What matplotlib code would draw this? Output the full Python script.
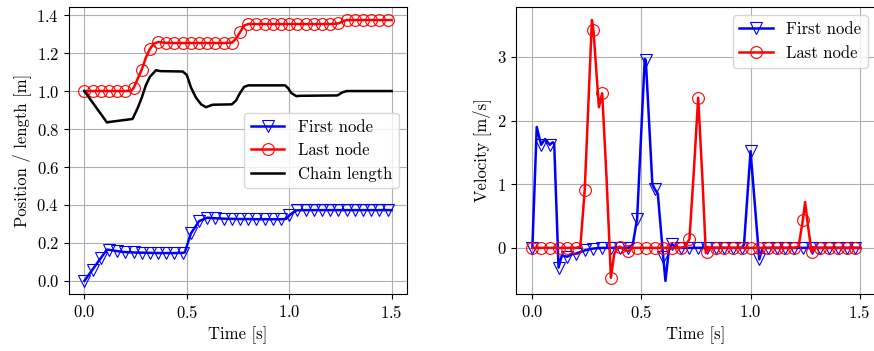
import numpy as np
import matplotlib
matplotlib.use('Agg')
import matplotlib.pyplot as plt

plt.rcParams['font.family'] = ['cmr10', 'DejaVu Serif']
plt.rcParams['mathtext.fontset'] = 'cm'
plt.rcParams['axes.formatter.use_mathtext'] = True
plt.rcParams['font.size'] = 12
plt.rcParams['axes.unicode_minus'] = False

# ---- positions (left panel) ----
t_first_pos = [0.0, 0.04, 0.08, 0.11, 0.12, 0.16, 0.20, 0.24, 0.28, 0.32, 0.36, 0.40, 0.44,
               0.48, 0.49, 0.52, 0.56, 0.60, 0.64, 0.68, 0.72, 0.76, 0.80, 0.84, 0.88,
               0.92, 0.96, 0.985, 1.00, 1.03, 1.04, 1.08, 1.12, 1.16, 1.20, 1.24, 1.28,
               1.32, 1.36, 1.40, 1.44, 1.48, 1.50]
first_pos = [0.0, 0.06, 0.12, 0.165, 0.164, 0.157, 0.152, 0.150, 0.149, 0.148, 0.147, 0.147, 0.147,
             0.148, 0.150, 0.25, 0.315, 0.333, 0.330, 0.328, 0.327, 0.326, 0.326, 0.325, 0.325,
             0.325, 0.325, 0.327, 0.345, 0.370, 0.372, 0.373, 0.373, 0.373, 0.373, 0.373, 0.373,
             0.373, 0.373, 0.373, 0.373, 0.373, 0.373]

t_last_pos = [0.0, 0.04, 0.08, 0.12, 0.16, 0.20, 0.23, 0.24, 0.28, 0.30, 0.32, 0.34, 0.36,
              0.40, 0.44, 0.48, 0.52, 0.56, 0.60, 0.64, 0.68, 0.72, 0.74, 0.76, 0.78, 0.80,
              0.84, 0.88, 0.92, 0.96, 1.00, 1.04, 1.08, 1.12, 1.16, 1.20, 1.24, 1.26, 1.28,
              1.32, 1.36, 1.40, 1.44, 1.48, 1.50]
last_pos = [1.0, 1.0, 1.0, 1.0, 1.0, 1.0, 1.003, 1.015, 1.113, 1.175, 1.222, 1.250, 1.258,
            1.254, 1.253, 1.253, 1.253, 1.253, 1.253, 1.253, 1.253, 1.255, 1.275, 1.31, 1.345, 1.353,
            1.353, 1.353, 1.353, 1.353, 1.353, 1.353, 1.353, 1.353, 1.353, 1.353, 1.356, 1.366, 1.374,
            1.374, 1.374, 1.374, 1.374, 1.374, 1.374]

t_chain = [0.0, 0.11, 0.12, 0.235, 0.26, 0.28, 0.30, 0.32, 0.35, 0.37, 0.48, 0.50, 0.52,
           0.545, 0.57, 0.594, 0.626, 0.72, 0.74, 0.76, 0.78, 0.80, 0.98, 0.995, 1.01,
           1.035, 1.05, 1.235, 1.26, 1.28, 1.50]
chain_len = [1.0, 0.835, 0.837, 0.853, 0.91, 0.965, 1.03, 1.075, 1.11, 1.105, 1.103, 1.085, 1.02,
             0.965, 0.93, 0.915, 0.928, 0.93, 0.95, 0.99, 1.022, 1.03, 1.03, 1.015, 0.99,
             0.973, 0.975, 0.977, 0.993, 1.0, 1.0]

# ---- velocities (right panel) ----
t_first_vel = [0.0, 0.02, 0.04, 0.058, 0.08, 0.093, 0.10, 0.12, 0.135, 0.16, 0.18, 0.20, 0.24,
               0.28, 0.32, 0.36, 0.40, 0.44, 0.46, 0.48, 0.515, 0.52, 0.55, 0.56, 0.575, 0.60,
               0.61, 0.625, 0.64, 0.66, 0.68, 0.72, 0.76, 0.80, 0.84, 0.88, 0.92, 0.96, 0.97,
               1.00, 1.04, 1.055, 1.08, 1.12, 1.16, 1.20, 1.24, 1.28, 1.32, 1.36, 1.40, 1.44,
               1.48, 1.50]
first_vel = [0.0, 1.9, 1.62, 1.71, 1.62, 1.66, 1.64, -0.31, -0.12, -0.14, -0.10, -0.09, -0.04,
             -0.01, 0.0, 0.0, 0.0, 0.0, 0.05, 0.45, 2.97, 2.95, 1.0, 0.93, 0.85, -0.15,
             -0.52, -0.05, 0.06, 0.0, 0.0, 0.0, 0.0, 0.0, 0.0, 0.0, 0.0, 0.0, 0.05,
             1.52, -0.18, 0.0, 0.0, 0.0, 0.0, 0.0, 0.0, 0.0, 0.0, 0.0, 0.0, 0.0,
             0.0, 0.0]

t_last_vel = [0.0, 0.04, 0.08, 0.12, 0.16, 0.20, 0.22, 0.24, 0.273, 0.28, 0.305, 0.32, 0.34,
              0.36, 0.375, 0.39, 0.40, 0.42, 0.44, 0.46, 0.48, 0.52, 0.56, 0.60, 0.64, 0.68,
              0.70, 0.72, 0.74, 0.76, 0.78, 0.795, 0.80, 0.81, 0.84, 0.88, 0.92, 0.96, 1.00,
              1.04, 1.08, 1.12, 1.16, 1.20, 1.22, 1.24, 1.25, 1.265, 1.28, 1.29, 1.32, 1.36,
              1.40, 1.44, 1.48, 1.50]
last_vel = [0.0, 0.0, 0.0, 0.0, 0.0, 0.0, 0.02, 0.91, 3.58, 3.42, 2.21, 2.43, 1.1,
            -0.47, -0.1, 0.0, 0.02, -0.03, -0.05, 0.0, 0.0, 0.0, 0.0, 0.0, 0.0, 0.0,
            0.02, 0.14, 1.2, 2.36, 1.05, -0.08, -0.06, 0.0, 0.0, 0.0, 0.0, 0.0, 0.0,
            0.0, 0.0, 0.0, 0.0, 0.0, 0.02, 0.44, 0.72, 0.3, -0.07, 0.0, 0.0, 0.0,
            0.0, 0.0, 0.0, 0.0]

sample_dt = 0.04


def sample_marks(t):
    t = np.asarray(t)
    k = t / sample_dt
    return np.isclose(k, np.round(k))


fig = plt.figure(figsize=(8.74, 3.51), dpi=100)
ax1 = fig.add_axes([69 / 874, 1 - 294 / 351, 338 / 874, 287 / 351])
ax2 = fig.add_axes([516 / 874, 1 - 294 / 351, 360 / 874, 287 / 351])

mk = dict(markerfacecolor='none', markersize=8.5, markeredgewidth=0.8, linewidth=1.8)

ax1.plot(t_first_pos, first_pos, color='b', marker='v', markevery=list(sample_marks(t_first_pos)),
         label='First node', **mk)
ax1.plot(t_last_pos, last_pos, color='r', marker='o', markevery=list(sample_marks(t_last_pos)),
         label='Last node', **mk)
ax1.plot(t_chain, chain_len, color='k', linewidth=1.8, label='Chain length')
ax1.set_xlabel('Time [s]')
ax1.set_ylabel('Position / length [m]')
ax1.set_xticks([0.0, 0.5, 1.0, 1.5])
ax1.set_yticks(np.arange(0, 1.41, 0.2))
ax1.grid(True)
ax1.legend(loc='center right')

ax2.plot(t_first_vel, first_vel, color='b', marker='v', markevery=list(sample_marks(t_first_vel)),
         label='First node', **mk)
ax2.plot(t_last_vel, last_vel, color='r', marker='o', markevery=list(sample_marks(t_last_vel)),
         label='Last node', **mk)
ax2.set_xlabel('Time [s]')
ax2.set_ylabel('Velocity [m/s]')
ax2.set_xticks([0.0, 0.5, 1.0, 1.5])
ax2.set_yticks([0, 1, 2, 3])
ax2.grid(True)
ax2.legend(loc='upper right')

fig.savefig('out.png', dpi=100)
